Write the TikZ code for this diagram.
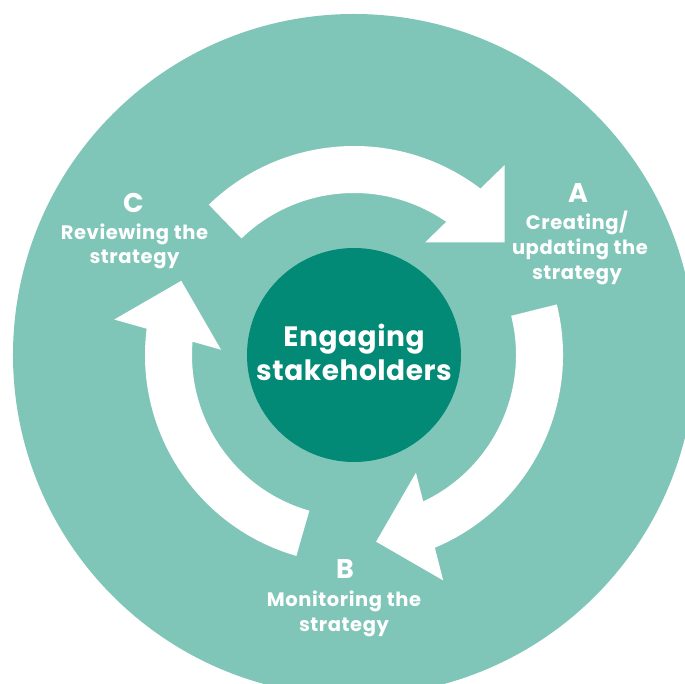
\documentclass[tikz,border=0pt]{standalone}
\usepackage{fontspec}
\setmainfont{Poppins}
\definecolor{lightteal}{HTML}{80C6B8}
\definecolor{darkteal}{HTML}{028A77}
\begin{document}
\begin{tikzpicture}[x=1pt,y=1pt,
  lbl/.style={text=white,font=\fontsize{19.5}{22}\selectfont\bfseries\addfontfeatures{LetterSpace=3},anchor=base,inner sep=0pt},
  bigletter/.style={text=white,font=\fontsize{27}{30}\selectfont\bfseries,anchor=base,inner sep=0pt},
  centertext/.style={text=white,font=\fontsize{28}{30}\selectfont\bfseries\addfontfeatures{LetterSpace=2},anchor=base,inner sep=0pt},
  cyclearrow/.style={fill=white,draw=none}]
\useasboundingbox (-354,-329) rectangle (331,355);
\clip (-354,-329) rectangle (331,355);
% outer disc
\fill[lightteal] (0,0) circle (341);
% three curved arrows (same shape rotated by 120 degrees)
\foreach \r in {0,-120,-240}{
  \fill[cyclearrow,rotate=\r] (134:209) arc[start angle=134,end angle=52.77,radius=209]
    -- (150.6,189.9) -- (150.6,112.5) -- (71,112.5) -- (55.29:162)
    arc[start angle=55.29,end angle=134,radius=162] -- cycle;
}
% centre disc
\node[circle,fill=darkteal,minimum size=214pt,inner sep=0pt] (hub) at (0,0) {};
\node[centertext] (eng1) at (0,8.3) {Engaging};
\node[centertext] (eng2) at (0,-26) {stakeholders};
% A
\node[bigletter] (a) at (224,152.7) {A};
\node[lbl] (a1) at (223,125) {Creating/};
\node[lbl] (a2) at (226,100.5) {updating the};
\node[lbl] (a3) at (223,75) {strategy};
% B
\node[bigletter] (b) at (-9,-223.3) {B};
\node[lbl] (b1) at (-10,-251.7) {Monitoring the};
\node[lbl] (b2) at (-10,-276.7) {strategy};
% C
\node[bigletter] (c) at (-220.5,142.7) {C};
\node[lbl] (c1) at (-219.5,115.7) {Reviewing the};
\node[lbl] (c2) at (-219.5,91) {strategy};
\end{tikzpicture}
\end{document}
